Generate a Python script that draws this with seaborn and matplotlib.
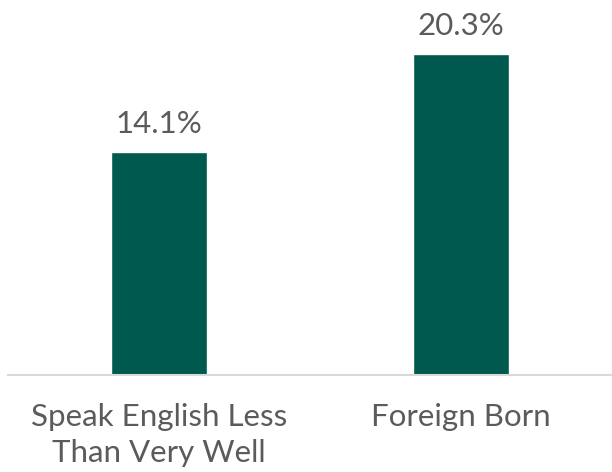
import matplotlib
matplotlib.use("Agg")
import matplotlib.pyplot as plt
import seaborn as sns
import pandas as pd

# Chart data
categories = ["Speak English Less\nThan Very Well", "Foreign Born"]
values = [14.1, 20.3]
value_labels = ["14.1%", "20.3%"]

df = pd.DataFrame({"group": categories, "pct": values})

sns.set_theme(style="white")
plt.rcParams["font.family"] = ["Lato", "DejaVu Sans"]

text_color = "#5B5B5B"
bar_color = "#00594E"

fig = plt.figure(figsize=(6.12, 4.72), dpi=100)
ax = fig.add_axes([8 / 612, 97 / 472, 1 - 8 / 612, (375 - 29) / 472])

sns.barplot(data=df, x="group", y="pct", color=bar_color, width=0.315,
            saturation=1, ax=ax)

ax.set_ylim(0, 21.85)
ax.set_xlim(-0.5, 1.5)

# Value labels above bars
for i, (v, lab) in enumerate(zip(values, value_labels)):
    ax.annotate(lab, (i, v), xytext=(0, 10), textcoords="offset points",
                ha="center", va="bottom", fontsize=22.5, color=text_color)

for s in ["top", "right", "left"]:
    ax.spines[s].set_visible(False)
ax.spines["bottom"].set_color("#D9D9D9")
ax.spines["bottom"].set_linewidth(1.5)
ax.set_yticks([])
ax.set_xlabel("")
ax.set_ylabel("")
ax.tick_params(axis="x", length=0, pad=20, labelsize=22.5, labelcolor=text_color)
for t in ax.get_xticklabels():
    t.set_linespacing(1.35)

fig.savefig("out.png", dpi=100)
